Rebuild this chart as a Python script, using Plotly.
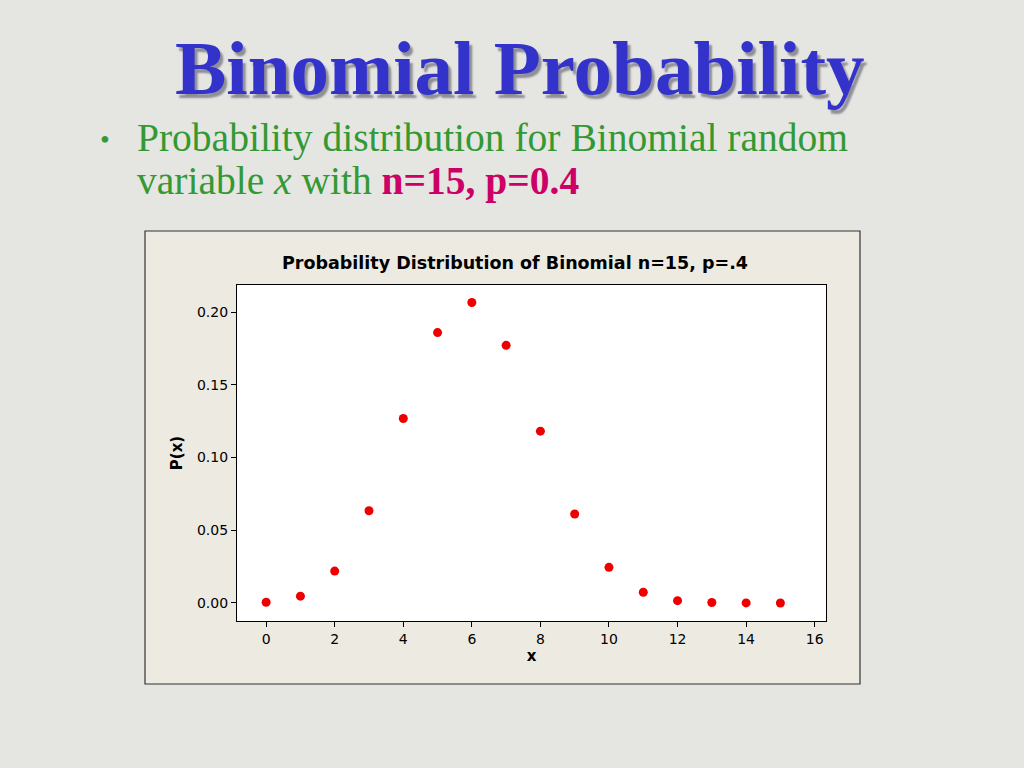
import plotly.graph_objects as go

x_vals = [0, 1, 2, 3, 4, 5, 6, 7, 8, 9, 10, 11, 12, 13, 14, 15]
p_vals = [0.0005, 0.0047, 0.0219, 0.0634, 0.1268, 0.1859, 0.2066, 0.1771,
          0.1181, 0.0612, 0.0245, 0.0074, 0.0016, 0.0003, 0.00003, 0.000001]
x_ticks = [0, 2, 4, 6, 8, 10, 12, 14, 16]
y_ticks = [0.00, 0.05, 0.10, 0.15, 0.20]
y_tick_text = ["0.00", "0.05", "0.10", "0.15", "0.20"]

W, H = 1024, 768
def px(v): return v / W
def py(v): return 1 - v / H

fig = go.Figure()
fig.add_trace(go.Scatter(
    x=x_vals, y=p_vals, mode="markers",
    marker=dict(color="#EE0000", size=9, line=dict(width=0)),
    showlegend=False, hoverinfo="x+y"))

shapes = [
    dict(type="rect", xref="paper", yref="paper", x0=px(145), x1=px(860), y0=py(684), y1=py(231),
         fillcolor="#EDEAE2", line=dict(color="#333333", width=1.2), layer="below"),
    dict(type="rect", xref="paper", yref="paper", x0=px(237), x1=px(826), y0=py(621), y1=py(285),
         fillcolor="white", line=dict(width=0), layer="below"),
]

title_font = "Liberation Serif, Times New Roman, serif"
annotations = [
    dict(text="<b>Binomial Probability</b>", x=px(520), y=py(68), xref="paper", yref="paper",
         xanchor="center", yanchor="middle", showarrow=False,
         font=dict(family=title_font, size=77, color="#3333CC", shadow="3px 4px 2px #8E8E96")),
    dict(text="•", x=px(98), y=py(140), xref="paper", yref="paper", xanchor="left", yanchor="middle",
         showarrow=False, font=dict(family=title_font, size=28, color="#339933")),
    dict(text="Probability distribution for Binomial random", x=px(135), y=py(138), xref="paper",
         yref="paper", xanchor="left", yanchor="middle", showarrow=False,
         font=dict(family=title_font, size=39.5, color="#339933")),
    dict(text="variable <i>x</i> with <b><span style='color:#CC0066'>n=15, p=0.4</span></b>",
         x=px(135), y=py(181), xref="paper", yref="paper", xanchor="left", yanchor="middle",
         showarrow=False, font=dict(family=title_font, size=39.5, color="#339933")),
    dict(text="<b>Probability Distribution of Binomial n=15, p=.4</b>", x=px(515), y=py(263),
         xref="paper", yref="paper", xanchor="center", yanchor="middle", showarrow=False,
         font=dict(family="DejaVu Sans, Verdana, sans-serif", size=17.5, color="black")),
]

tick_font = dict(family="DejaVu Sans, sans-serif", size=14, color="black")
fig.update_layout(
    width=W, height=H,
    margin=dict(l=0, r=0, t=0, b=0),
    paper_bgcolor="#E5E5E2",
    plot_bgcolor="rgba(0,0,0,0)",
    shapes=shapes,
    annotations=annotations,
    xaxis=dict(domain=[px(237), px(826)], range=[-0.85, 16.33], tickmode="array",
               tickvals=x_ticks, ticks="outside", ticklen=5, tickcolor="black",
               showline=True, linecolor="black", linewidth=1.3, mirror=True,
               showgrid=False, zeroline=False, tickfont=tick_font,
               title=dict(text="<b>x</b>", standoff=4,
                          font=dict(family="DejaVu Sans, sans-serif", size=15, color="black"))),
    yaxis=dict(domain=[py(621), py(285)], range=[-0.0124, 0.2186], tickmode="array",
               tickvals=y_ticks, ticktext=y_tick_text, ticks="outside", ticklen=5,
               tickcolor="black", showline=True, linecolor="black", linewidth=1.3, mirror=True,
               showgrid=False, zeroline=False, tickfont=tick_font,
               title=dict(text="<b>P(x)</b>", standoff=10,
                          font=dict(family="DejaVu Sans, sans-serif", size=15, color="black"))),
)

fig.write_html("out.html", config={"displayModeBar": False},
               post_script="document.body.style.margin='0';document.body.style.background='#E5E5E2';document.body.style.overflow='hidden';")
